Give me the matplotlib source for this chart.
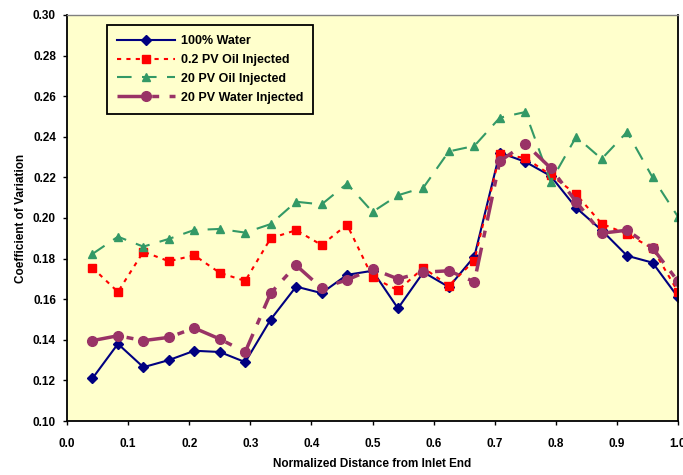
import numpy as np
import matplotlib
matplotlib.use('Agg')
import matplotlib.pyplot as plt

plt.rcParams['font.family'] = ['Liberation Sans', 'DejaVu Sans']
plt.rcParams['font.weight'] = 'bold'

# normalized distance (24 slices)
distance = [k / 24 for k in range(1, 25)]

water_100 = [0.121, 0.138, 0.1265, 0.130, 0.1346, 0.134, 0.129, 0.150,
             0.1662, 0.163, 0.172, 0.174, 0.1555, 0.1733, 0.166, 0.181,
             0.2322, 0.2277, 0.2207, 0.205, 0.194, 0.1814, 0.178, 0.161]

oil_02pv = [0.1755, 0.1636, 0.1834, 0.1787, 0.1816, 0.173, 0.169, 0.190,
            0.194, 0.1867, 0.1967, 0.1708, 0.1644, 0.1754, 0.1667, 0.179,
            0.2314, 0.2296, 0.2212, 0.2117, 0.1972, 0.1921, 0.185, 0.1636]

oil_20pv = [0.1823, 0.1908, 0.1859, 0.1897, 0.1941, 0.1946, 0.1928, 0.197,
            0.208, 0.2067, 0.2169, 0.203, 0.2112, 0.215, 0.2328, 0.2355,
            0.2494, 0.2522, 0.2179, 0.240, 0.2291, 0.2424, 0.220, 0.2006]

water_20pv = [0.1396, 0.142, 0.1396, 0.1412, 0.1458, 0.1404, 0.134, 0.163,
              0.1767, 0.1655, 0.1695, 0.1749, 0.170, 0.1733, 0.174, 0.1686,
              0.228, 0.2366, 0.2246, 0.208, 0.1925, 0.194, 0.1852, 0.1688]

fig = plt.figure(figsize=(6.83, 4.75), dpi=100)
ax = fig.add_axes([67 / 683, 1 - 421 / 475, 611 / 683, 406 / 475])
ax.set_facecolor('#FFFFCC')

ax.plot(distance, water_100, color='#000080', lw=1.5, marker='D', ms=5,
        label='100% Water')
ax.plot(distance, oil_02pv, color='#FF0000', lw=1.5, ls=(0, (2, 2.5)),
        marker='s', ms=6, label='0.2 PV Oil Injected')
ax.plot(distance, oil_20pv, color='#339966', lw=1.5, ls=(0, (7, 5)),
        marker='^', ms=6, label='20 PV Oil Injected')
ax.plot(distance, water_20pv, color='#993366', lw=2.5, ls=(0, (7, 3, 2, 3)),
        marker='o', ms=7, label='20 PV Water Injected')

ax.set_xlim(0, 1.0)
ax.set_ylim(0.10, 0.30)
ax.set_xticks(np.arange(0, 1.01, 0.1))
ax.set_yticks(np.arange(0.10, 0.301, 0.02))
ax.xaxis.set_major_formatter(matplotlib.ticker.FormatStrFormatter('%.1f'))
ax.yaxis.set_major_formatter(matplotlib.ticker.FormatStrFormatter('%.2f'))
ax.tick_params(direction='out', length=3, width=1, labelsize=8.5)
ax.tick_params(axis='x', pad=9)
ax.tick_params(axis='y', pad=5)

for s in ['left', 'bottom', 'right']:
    ax.spines[s].set_linewidth(1.3)
    ax.spines[s].set_color('black')
ax.spines['top'].set_color('#808080')
ax.spines['top'].set_linewidth(1)

ax.set_xlabel('Normalized Distance from Inlet End', fontsize=8.5,
              fontweight='bold', labelpad=6)
ax.set_ylabel('Coefficient of Variation', fontsize=8.5, fontweight='bold',
              labelpad=4)

leg = ax.legend(loc='upper left', bbox_to_anchor=(40 / 611, 1 - 10 / 406),
                fontsize=9, frameon=True, fancybox=False, handlelength=4.6,
                handletextpad=0.5, labelspacing=0.55, borderpad=0.8,
                borderaxespad=0)
leg.get_frame().set_edgecolor('black')
leg.get_frame().set_linewidth(1.3)
leg.get_frame().set_facecolor('#FFFFCC')
leg.get_frame().set_alpha(1)

fig.savefig('out.png', dpi=100)
